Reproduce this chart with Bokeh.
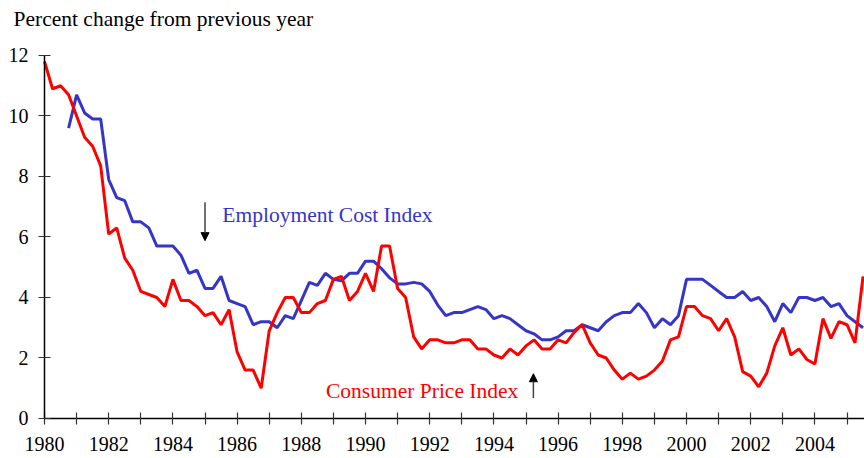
from bokeh.plotting import figure
from bokeh.models import Range1d, FixedTicker, Label, Arrow, NormalHead
from bokeh.embed import file_html
from bokeh.resources import INLINE

# Quarterly percent change from previous year, starting 1980 Q1
cpi = [11.8, 10.9, 11.0, 10.7, 10.0, 9.3, 9.0, 8.35, 6.1, 6.3, 5.3, 4.9,
       4.2, 4.1, 4.0, 3.7, 4.6, 3.9, 3.9, 3.7, 3.4, 3.5, 3.1, 3.6,
       2.2, 1.6, 1.6, 1.0, 2.9, 3.5, 4.0, 4.0, 3.5, 3.5, 3.8, 3.9,
       4.6, 4.7, 3.9, 4.2, 4.8, 4.2, 5.7, 5.7, 4.3, 4.0, 2.7, 2.3,
       2.6, 2.6, 2.5, 2.5, 2.6, 2.6, 2.3, 2.3, 2.1, 2.0, 2.3, 2.1,
       2.4, 2.6, 2.3, 2.3, 2.6, 2.5, 2.85, 3.1, 2.5, 2.1, 2.0, 1.6,
       1.3, 1.5, 1.3, 1.4, 1.6, 1.9, 2.6, 2.7, 3.7, 3.7, 3.4, 3.3,
       2.9, 3.3, 2.7, 1.55, 1.4, 1.05, 1.5, 2.4, 3.0, 2.1, 2.3, 1.95,
       1.8, 3.3, 2.65, 3.2, 3.1, 2.5, 4.7]

# Employment Cost Index begins 1980 Q4
eci_first_quarter = 3
eci = [9.6, 10.7, 10.1, 9.9, 9.9, 7.9, 7.3, 7.2, 6.5, 6.5, 6.3, 5.7,
       5.7, 5.7, 5.4, 4.8, 4.9, 4.3, 4.3, 4.7, 3.9, 3.8, 3.7, 3.1,
       3.2, 3.2, 3.0, 3.4, 3.3, 3.9, 4.5, 4.4, 4.8, 4.6, 4.55, 4.8,
       4.8, 5.2, 5.2, 4.95, 4.65, 4.45, 4.45, 4.5, 4.45, 4.2, 3.75, 3.4,
       3.5, 3.5, 3.6, 3.7, 3.6, 3.3, 3.4, 3.3, 3.1, 2.9, 2.8, 2.6,
       2.6, 2.7, 2.9, 2.9, 3.1, 3.0, 2.9, 3.2, 3.4, 3.5, 3.5, 3.8,
       3.5, 3.0, 3.3, 3.1, 3.4, 4.6, 4.6, 4.6, 4.4, 4.2, 4.0, 4.0,
       4.2, 3.9, 4.0, 3.7, 3.2, 3.8, 3.5, 4.0, 4.0, 3.9, 4.0, 3.7,
       3.8, 3.4, 3.2, 3.0]

quarters = [1980 + 0.25 * i for i in range(len(cpi))]
eci_quarters = quarters[eci_first_quarter:eci_first_quarter + len(eci)]

major_years = list(range(1980, 2005, 2))
minor_years = list(range(1981, 2006, 2))
y_ticks = [0, 2, 4, 6, 8, 10, 12]

SERIF = "Liberation Serif"
BLUE = "#3535C8"
RED = "#FF0000"

X0, X1 = 1978.629, 2005.545
Y0, Y1 = -1.3223, 13.818

p = figure(width=864, height=458, output_backend="svg", toolbar_location=None,
           x_range=Range1d(X0, X1), y_range=Range1d(Y0, Y1),
           min_border_left=0, min_border_right=0, min_border_top=0,
           min_border_bottom=0)
p.outline_line_color = None
p.grid.visible = False
p.background_fill_color = "white"

p.line(eci_quarters, eci, line_color=BLUE, line_width=3)
p.line(quarters, cpi, line_color=RED, line_width=3)

xa = p.xaxis[0]
xa.ticker = FixedTicker(ticks=major_years, minor_ticks=minor_years)
xa.fixed_location = 0
xa.bounds = (1980, X1)
xa.major_label_text_font = SERIF
xa.major_label_text_font_size = "20px"
xa.major_label_text_color = "black"
xa.axis_line_color = "black"
xa.axis_line_width = 1.5
xa.major_tick_in = 6
xa.major_tick_out = 6
xa.minor_tick_in = 6
xa.minor_tick_out = 6
xa.major_tick_line_color = "#333333"
xa.minor_tick_line_color = "#333333"
xa.major_tick_line_width = 1.2
xa.minor_tick_line_width = 1.2
xa.major_label_standoff = 13

ya = p.yaxis[0]
ya.ticker = FixedTicker(ticks=y_ticks)
ya.fixed_location = 1980
ya.bounds = (0, 12)
ya.major_label_text_font = SERIF
ya.major_label_text_font_size = "20px"
ya.major_label_text_color = "black"
ya.axis_line_color = "black"
ya.axis_line_width = 1.5
ya.major_tick_in = 6
ya.major_tick_out = 6
ya.minor_tick_line_color = None
ya.major_tick_line_color = "#333333"
ya.major_tick_line_width = 1.2
ya.major_label_standoff = 10

p.add_layout(Label(x=1979.034, y=13.22, text="Percent change from previous year",
                   text_font=SERIF, text_font_size="21.5px", text_color="black",
                   text_baseline="alphabetic", text_align="left"))
p.add_layout(Label(x=1985.54, y=6.72, text="Employment Cost Index",
                   text_font=SERIF, text_font_size="21.5px", text_color=BLUE,
                   text_baseline="alphabetic", text_align="left"))
p.add_layout(Label(x=1988.77, y=0.91, text="Consumer Price Index",
                   text_font=SERIF, text_font_size="21.5px", text_color=RED,
                   text_baseline="alphabetic", text_align="left"))

p.add_layout(Arrow(x_start=1985.0, y_start=7.15, x_end=1985.0, y_end=5.88,
                   line_color="#444444", line_width=1.5,
                   end=NormalHead(size=8, fill_color="black", line_color="black")))
p.add_layout(Arrow(x_start=1995.23, y_start=0.68, x_end=1995.23, y_end=1.48,
                   line_color="#444444", line_width=1.5,
                   end=NormalHead(size=8, fill_color="black", line_color="black")))

open("out.html", "w").write(file_html(p, INLINE))
